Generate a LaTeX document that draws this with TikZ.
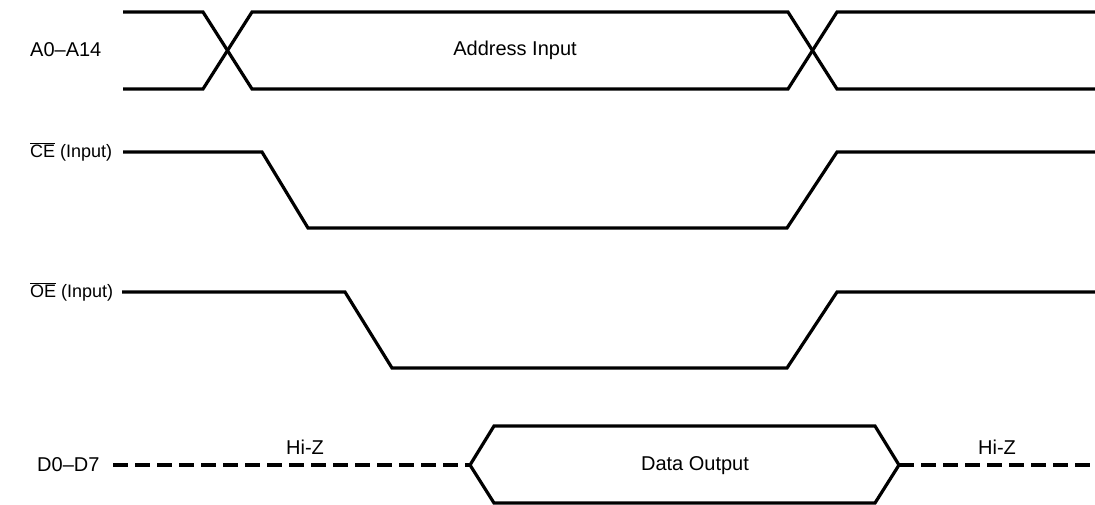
\documentclass[tikz,border=0pt]{standalone}
\usepackage{fontspec}
\setmainfont{Liberation Sans}
\begin{document}
\begin{tikzpicture}[x=1pt,y=-1pt,
  sig/.style={line width=3.2pt, line join=miter, black},
  hiz/.style={line width=3.4pt, dash pattern=on 15pt off 7pt},
  lbl/.style={font=\fontsize{20}{22}\selectfont, inner sep=0pt},
  inlbl/.style={lbl, font=\fontsize{18}{20}\selectfont, anchor=west},
]
\useasboundingbox (0,0) rectangle (1095,504);
% labels
\node[lbl, anchor=west] (la) at (30,50) {A0--A14};
\node[inlbl] (lc) at (30,152) {$\overline{\mbox{CE}}$ (Input)};
\node[inlbl] (lo) at (30,292) {$\overline{\mbox{OE}}$ (Input)};
\node[lbl, anchor=west] (ld) at (37,465) {D0--D7};
% address
\draw[sig] (123,12) -- (203,12) -- (252,89) -- (788,89) -- (837,12) -- (1095,12);
\draw[sig] (123,89) -- (203,89) -- (252,12) -- (788,12) -- (837,89) -- (1095,89);
\node[lbl] (ai) at (515,50) {Address Input};
% CE
\draw[sig] (123,152) -- (262,152) -- (308,228) -- (787,228) -- (837,152) -- (1095,152);
% OE
\draw[sig] (122,292) -- (345,292) -- (392,368) -- (787,368) -- (837,292) -- (1095,292);
% data
\coordinate (dl) at (113,465);
\coordinate (dr) at (1095,465);
\coordinate (hl) at (470,465);
\coordinate (hr) at (899,465);
\draw[hiz] (dl) -- (hl);
\draw[hiz] (hr) -- (dr);
\draw[sig] (hl) -- (494,426) -- (875,426) -- (hr) -- (875,503) -- (494,503) -- cycle;
\node[lbl] (dout) at (695,466) {Data Output};
\node[lbl] (hz1) at (305,447) {Hi-Z};
\node[lbl] (hz2) at (997,447) {Hi-Z};
\end{tikzpicture}
\end{document}
